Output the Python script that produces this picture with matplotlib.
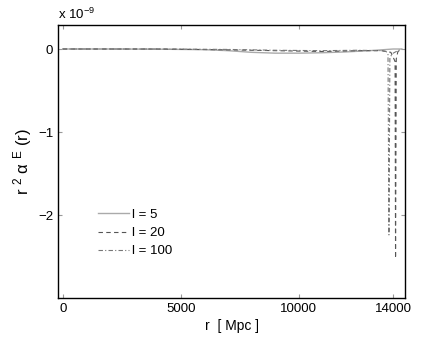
import matplotlib
matplotlib.use('Agg')
import matplotlib.pyplot as plt
import numpy as np

plt.rcParams['font.family'] = ['Liberation Sans', 'DejaVu Sans']
plt.rcParams['mathtext.fontset'] = 'custom'
plt.rcParams['mathtext.rm'] = 'Liberation Sans'
plt.rcParams['mathtext.it'] = 'Liberation Sans'

# values in units of 1e-9
r_l5 = [0, 2000, 4000, 6000, 7000, 8000, 9000, 10000, 11000, 12000, 13000, 13500, 14000, 14370]
a_l5 = [0, 0, -0.002, -0.008, -0.02, -0.04, -0.05, -0.05, -0.045, -0.035, -0.02, -0.01, 0, 0]

r_l20 = [0, 4000, 7000, 9000, 11000, 12500, 13500, 13900, 14000, 14080, 14100, 14130, 14200, 14370]
a_l20 = [0, 0, -0.01, -0.02, -0.03, -0.02, -0.02, -0.04, -0.1, -0.15, -2.52, -0.12, -0.03, 0]

r_l100 = [0, 4000, 7000, 9000, 11000, 12500, 13500, 13700, 13780, 13820, 13860, 14000, 14200, 14370]
a_l100 = [0, 0, -0.005, -0.015, -0.02, -0.015, -0.02, -0.03, -0.06, -2.24, -0.1, -0.05, -0.02, 0]

fig = plt.figure(figsize=(4.48, 3.37), dpi=100)
ax = fig.add_axes([0.1295, 0.1157, 0.7745, 0.8103])

ax.plot(r_l5, a_l5, '-', color='#aaaaaa', lw=1.0, label='l = 5')
ax.plot(r_l20, a_l20, '--', color='#555555', lw=0.8, dashes=(4, 3), label='l = 20')
ax.plot(r_l100, a_l100, '-.', color='#777777', lw=0.8, dashes=(4, 2, 1, 2), label='l = 100')

ax.set_xlim(-200, 14500)
ax.set_ylim(-3, 0.29)
ax.set_xticks([0, 5000, 10000, 14000])
ax.set_yticks([0, -1, -2])
ax.set_yticklabels(['0', '\u22121', '\u22122'])
ax.tick_params(direction='in', length=3, color='#999999', labelsize=9.5,
               top=True, right=True)
for s in ax.spines.values():
    s.set_linewidth(1.0)

ax.set_xlabel('r  [ Mpc ]', fontsize=10, labelpad=3)
ax.set_ylabel(r'r $^{2}$ $\alpha$ $^{E}$ (r)', fontsize=12, labelpad=3)
ax.text(0.0, 1.01, r'x 10$^{-9}$', transform=ax.transAxes, fontsize=9.5,
        ha='left', va='bottom')

ax.legend(loc='lower left', bbox_to_anchor=(0.08, 0.105), frameon=False,
          fontsize=9.5, handlelength=2.4, handletextpad=0.2, labelspacing=0.45)

fig.savefig('out.png', dpi=100)
